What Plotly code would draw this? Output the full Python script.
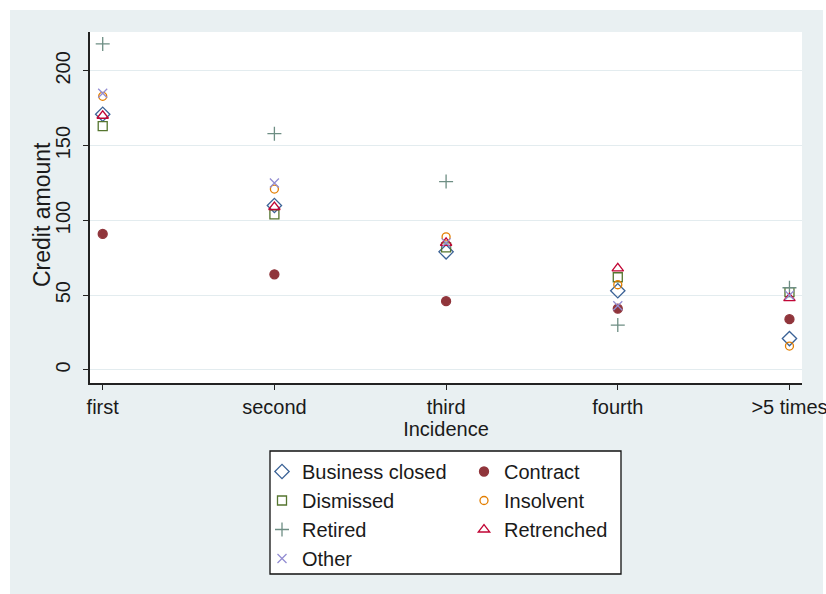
import plotly.graph_objects as go

# Incidence categories on the x axis
incidence = ["first", "second", "third", "fourth", ">5 times"]

# Mean credit amount per reason and incidence
business_closed = [171, 110, 79, 53, 21]
contract = [91, 64, 46, 41, 34]
dismissed = [163, 104, 82, 62, 52]
insolvent = [183, 121, 89, 57, 16]
retired = [218, 158, 126, 30, 55]
retrenched = [170, 109, 85, 68, 48]
other = [185, 125, 85, 43, 50]

y_ticks = [0, 50, 100, 150, 200]

FONT = "Liberation Sans, Arial, sans-serif"
TEXT = "#1a1a1a"
BG = "#E9F0F2"
GRID = "#E3ECEF"

series = [
    ("Business closed", business_closed, "diamond-open", "#3B6296", 11, "legend"),
    ("Contract", contract, "circle", "#90353B", 9, "legend2"),
    ("Dismissed", dismissed, "square-open", "#55752F", 9, "legend"),
    ("Insolvent", insolvent, "circle-open", "#E37E00", 8, "legend2"),
    ("Retired", retired, "cross-thin-open", "#6E8E84", 10, "legend"),
    ("Retrenched", retrenched, "triangle-up-open", "#C10534", 10, "legend2"),
    ("Other", other, "x-thin-open", "#938DD2", 9, "legend"),
]

fig = go.Figure()
for name, vals, sym, col, size, leg in series:
    fig.add_trace(go.Scatter(
        x=incidence, y=vals, mode="markers", name=name, legend=leg,
        marker=dict(symbol=sym, color=col, size=size,
                    line=dict(color=col, width=1.3)),
    ))

W, H = 826, 594
L, R, T, B = 90, 24, 32, 211
pw, ph = W - L - R, H - T - B


def px_x(v):
    return (v - L) / pw


def px_y(v):
    return (H - B - v) / ph


shapes = [
    # graph region background
    dict(type="rect", xref="paper", yref="paper", layer="below",
         x0=px_x(10), x1=px_x(823), y0=px_y(595), y1=px_y(10),
         fillcolor=BG, line=dict(width=0)),
    # plot region
    dict(type="rect", xref="paper", yref="paper", layer="below",
         x0=0, x1=1, y0=0, y1=1, fillcolor="white", line=dict(width=0)),
    # legend frame
    dict(type="rect", xref="paper", yref="paper", layer="below",
         x0=px_x(270), x1=px_x(621), y0=px_y(574), y1=px_y(451),
         fillcolor="white", line=dict(color="#111111", width=1.3)),
]

legend_common = dict(
    orientation="v", yanchor="top", xanchor="left",
    bgcolor="rgba(0,0,0,0)", borderwidth=0,
    font=dict(family=FONT, size=20, color=TEXT),
    itemsizing="trace",
)

fig.update_layout(
    width=W, height=H,
    margin=dict(l=L, r=R, t=T, b=B, autoexpand=False),
    paper_bgcolor="white",
    plot_bgcolor="white",
    font=dict(family=FONT, size=20, color=TEXT),
    shapes=shapes,
    showlegend=True,
    legend=dict(x=px_x(262), y=px_y(452), **legend_common),
    legend2=dict(x=px_x(464), y=px_y(452), **legend_common),
    xaxis=dict(
        type="category", range=[-0.074, 4.073],
        showline=True, linecolor="#222222", linewidth=1.5,
        ticks="outside", ticklen=5, tickwidth=1.3, tickcolor="#222222",
        showgrid=False, zeroline=False,
        tickfont=dict(family=FONT, size=20, color=TEXT),
        title=dict(text="Incidence", standoff=0,
                   font=dict(family=FONT, size=20, color=TEXT)),
    ),
    yaxis=dict(
        range=[-8.7, 226], tickvals=y_ticks,
        showline=True, linecolor="#222222", linewidth=1.5,
        ticks="outside", ticklen=5, tickwidth=1.3, tickcolor="#222222",
        ticklabelstandoff=5,
        showgrid=True, gridcolor=GRID, gridwidth=1.2, zeroline=False,
        tickangle=-90,
        tickfont=dict(family=FONT, size=20, color=TEXT),
    ),
    annotations=[
        dict(text="Credit amount", xref="paper", yref="paper",
             x=px_x(42), y=px_y(215), xanchor="center", yanchor="middle",
             textangle=-90, showarrow=False,
             font=dict(family=FONT, size=23, color=TEXT)),
    ],
)

fig.write_html("out.html")
